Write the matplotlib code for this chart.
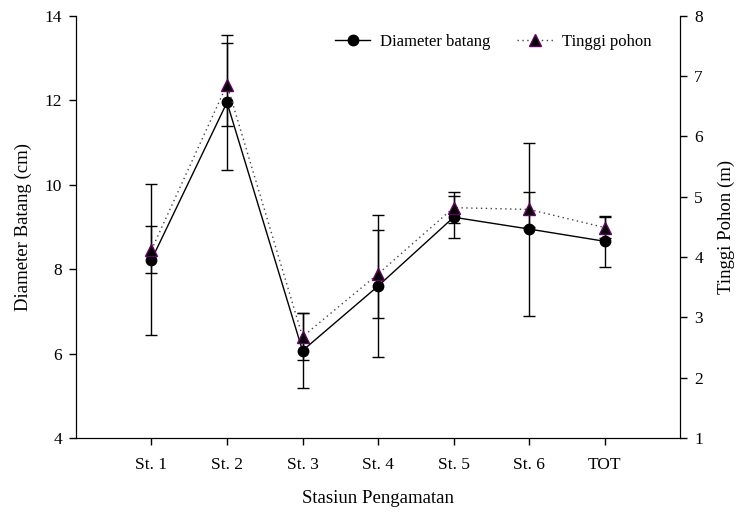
import matplotlib
matplotlib.use("Agg")
import matplotlib.pyplot as plt
from matplotlib.lines import Line2D

plt.rcParams['font.family'] = ['Liberation Serif', 'DejaVu Serif']

stations = ["St. 1", "St. 2", "St. 3", "St. 4", "St. 5", "St. 6", "TOT"]
diameter = [8.22, 11.95, 6.07, 7.60, 9.23, 8.95, 8.66]
diameter_sd = [1.79, 1.59, 0.88, 1.68, 0.50, 2.05, 0.60]
tinggi = [4.12, 6.86, 2.68, 3.72, 4.82, 4.79, 4.49]
tinggi_sd = [0.39, 0.69, 0.39, 0.73, 0.26, 0.29, 0.18]

x = list(range(1, len(stations) + 1))

fig = plt.figure(figsize=(7.37, 5.12), dpi=100)
ax = fig.add_axes([0.103, 0.1445, 0.820, 0.8245])
ax2 = ax.twinx()

ax.errorbar(x, diameter, yerr=diameter_sd, color='black', lw=1.0,
            marker='o', ms=7.5, mfc='black', mec='black',
            ecolor='black', elinewidth=1.0, capsize=4.5, capthick=1.0,
            zorder=3)
ax2.errorbar(x, tinggi, yerr=tinggi_sd, color='#444444', lw=1.0,
             linestyle=(0, (1, 2.5)),
             marker='^', ms=8, mfc='black', mec='#660066', mew=1.0,
             ecolor='black', elinewidth=1.0, capsize=4.5, capthick=1.0,
             zorder=3)

ax.set_xlim(0, 8)
ax.set_ylim(4, 14)
ax2.set_ylim(1, 8)
ax.set_xticks(x)
ax.set_xticklabels(stations)
ax.set_yticks([4, 6, 8, 10, 12, 14])
ax2.set_yticks([1, 2, 3, 4, 5, 6, 7, 8])

for a in (ax, ax2):
    a.spines['top'].set_visible(False)
    a.tick_params(direction='out', length=5, width=1, labelsize=12.5)
ax.tick_params(axis='x', pad=9)
ax.tick_params(axis='y', pad=5)
ax2.tick_params(axis='y', pad=5)

ax.set_xlabel("Stasiun Pengamatan", fontsize=13.5, labelpad=12)
ax.set_ylabel("Diameter Batang (cm)", fontsize=13.5, labelpad=9)
ax2.set_ylabel("Tinggi Pohon (m)", fontsize=13.5, labelpad=11)

h1 = Line2D([], [], color='black', lw=1.0, marker='o', ms=7.5, mfc='black', mec='black')
h2 = Line2D([], [], color='#444444', lw=1.0, linestyle=(0, (1, 2.5)), marker='^', ms=8,
            mfc='black', mec='#660066')
fig.legend([h1, h2], ["Diameter batang", "Tinggi pohon"], ncol=2, frameon=False,
           loc='upper right', bbox_to_anchor=(652 / 737, 1 - 34 / 512), fontsize=12,
           handlelength=2.15, handletextpad=0.6, columnspacing=1.55,
           borderpad=0, borderaxespad=0)

fig.savefig("out.png", dpi=100)
